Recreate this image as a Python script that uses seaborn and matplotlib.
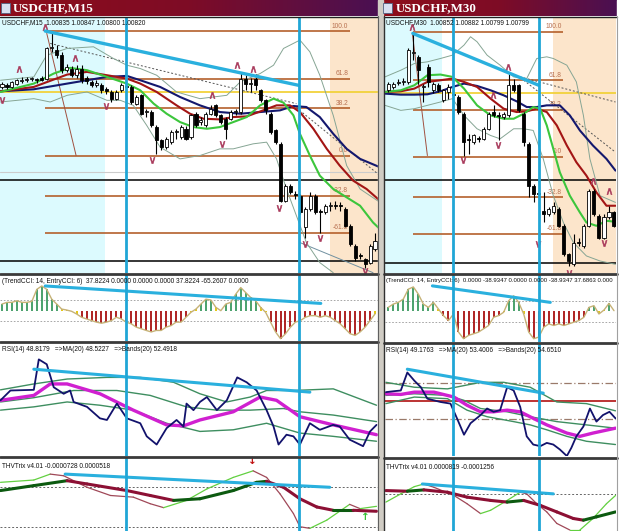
import numpy as np
import matplotlib
matplotlib.use('Agg')
import matplotlib.pyplot as plt
import seaborn as sns
from matplotlib.collections import LineCollection
from matplotlib.patches import Rectangle

sns.set_style('white')
plt.rcParams['font.family'] = ['DejaVu Sans']

# ---------------- DATA (price in chart points, bar index on x) ----------------
# M15 candles
m15_open = [585,592,585,595,604,606,608,606,612,610,700,695,680,637,640,620,640,612,600,592,
            590,578,570,550,575,588,585,535,560,510,510,465,425,405,420,450,435,460,435,505,
            480,470,505,530,500,490,490,510,510,610,595,610,575,545,505,455,415,245,290,265,
            260,165,220,260,212,210,228,232,230,220,170,110,82,70,60,100]
m15_high = [600,598,604,610,615,614,616,612,618,705,750,710,688,655,648,650,650,618,605,606,
            596,585,575,575,598,595,590,560,565,518,515,470,430,435,455,460,470,468,505,510,
            495,510,530,535,505,495,515,520,630,620,612,625,580,550,510,460,420,295,295,275,
            265,225,270,265,220,235,240,245,240,225,175,115,90,75,115,150]
m15_low = [580,580,582,592,598,600,602,598,602,605,690,672,628,630,615,612,598,595,585,586,
           568,565,540,545,570,580,535,530,500,495,465,385,398,400,415,430,430,425,430,465,
           470,465,500,495,475,430,485,500,505,575,570,575,540,505,445,415,240,240,265,250,
           205,135,215,205,150,205,215,220,215,165,110,65,70,45,55,95]
m15_close = [595,586,600,605,606,607,610,605,606,700,702,680,635,645,620,640,605,602,590,598,
             575,572,550,570,590,586,540,555,505,512,470,425,405,430,450,452,465,430,500,470,
             485,505,520,500,480,460,510,512,610,595,597,590,545,515,450,420,245,290,270,262,
             210,220,260,210,210,230,232,230,228,170,115,75,80,55,110,125]

# M30 candles
m30_open = [575,585,598,600,600,685,675,585,645,575,590,545,570,562,555,505,428,420,430,430,
            460,510,500,495,500,590,590,505,415,290,267,215,205,210,220,170,85,55,122,110,
            170,275,200,135,195,210]
m30_high = [600,600,610,612,700,745,680,595,655,600,596,580,595,575,560,510,445,445,438,465,
            510,530,510,510,625,610,595,510,420,295,270,270,225,240,225,175,90,145,135,175,
            280,280,205,205,230,215]
m30_low = [570,580,590,592,595,665,595,540,585,568,570,540,550,550,505,380,385,415,420,425,
           455,495,425,490,495,570,510,410,255,240,230,180,200,205,165,80,50,50,110,105,
           165,200,130,130,190,165]
m30_close = [595,595,600,602,695,687,635,587,600,595,575,575,585,560,510,420,425,440,428,460,
             505,500,498,505,590,575,515,420,290,265,265,205,220,230,170,85,65,120,120,170,
             275,205,135,195,210,170]

fib_labels = ['100.0', '61.8', '38.2', '0.0', '-32.8', '-61.8']
m15_fib_levels = [752, 610, 522, 380, 260, 150]
m30_fib_levels = [750, 605, 517, 377, 255, 147]
m15_fib_span = [8.7, 69.9]
m30_fib_span = [4.9, 34.9]
m15_yellow, m30_yellow = 570, 567
m15_black_levels = [307, 65]
m30_black_levels = [307, 60]
m15_cyan_zone, m15_peach_zone = 20.7, 65.9
m30_cyan_zone, m30_peach_zone = 10.8, 32.9
m15_vlines = [25.0, 59.7]
m30_vlines = [12.9, 30.0]

# M15 moving averages
m15_green_x = [-0.3,6.4,10.4,13.7,17.1,21.1,25.1,27.8,30.5,33.1,35.8,38.5,41.2,43.8,46.5,49.2,51.9,54.6,56.6,58.6,59.9,61.9,63.9,66.6,69.3,72.0,74.6,76.0]
m15_green_y = [570,595,625,642,635,615,595,575,535,505,480,465,460,465,480,495,530,550,538,500,445,380,320,280,255,230,180,160]
m15_red_x = [-0.3,6.4,13.1,17.1,21.1,25.1,27.8,31.1,35.1,37.8,40.5,43.8,46.5,49.2,52.5,55.2,57.9,59.9,62.6,65.3,67.9,70.6,73.3,76.0]
m15_red_y = [572,585,622,630,620,610,595,570,530,505,490,488,495,497,515,530,530,510,460,400,350,305,280,245]
m15_navy_x = [-0.3,6.4,13.1,17.1,21.1,25.1,27.8,31.8,35.8,39.8,43.8,47.9,51.9,55.9,58.6,61.2,63.9,66.6,69.3,72.0,76.0]
m15_navy_y = [572,578,595,605,615,618,605,585,555,530,510,505,510,515,528,525,495,445,400,370,345]
m15_bandup_x = [-0.3,6.4,9.0,13.1,18.4,22.4,25.1,27.8,31.1,35.1,39.8,45.2,47.9,51.9,54.6,56.6,59.9,61.9,63.9,66.6,69.3,72.0,76.0]
m15_bandup_y = [605,615,680,700,705,670,650,640,620,570,550,560,600,625,650,700,725,690,620,500,350,280,240]
m15_banddn_x = [-0.3,6.4,9.7,13.1,17.1,21.1,23.8,26.4,29.1,31.8,35.8,39.8,43.8,46.5,50.5,53.2,55.2,57.2,59.2,61.2,63.9,66.6]
m15_banddn_y = [540,550,540,560,570,545,545,530,470,405,370,380,400,400,415,420,370,280,200,120,60,30]
m15_frac_up_x = [8.6,3.5,14.7,42.3,47.3,50.5]
m15_frac_up_y = [765,640,672,562,650,638]
m15_frac_dn_x = [0.0,21.0,30.1,44.2,55.6,60.9,63.9,73.0]
m15_frac_dn_y = [545,528,368,415,222,115,135,35]
m15_trend = ([8.7, 59.6], [752, 590])

# M30 moving averages
m30_green_x = [-0.66,2.5,5.2,7.8,10.4,12.8,15.1,17.7,20.4,23.0,25.0,27.0,28.9,30.3,31.6,32.9,34.2,36.2,38.2,39.5,41.5,43.5,45.3]
m30_green_y = [570,575,590,620,622,615,580,530,500,490,490,505,525,520,470,400,330,260,210,180,170,185,182]
m30_red_x = [-0.66,2.5,5.2,7.8,10.4,12.8,15.1,17.7,20.4,23.0,25.6,27.6,29.6,31.6,33.6,35.6,37.5,39.5,41.5,43.5,45.3]
m30_red_y = [570,572,580,600,605,610,600,585,550,520,510,512,520,510,470,410,360,320,270,230,230]
m30_navy_x = [-0.66,2.5,5.2,7.8,10.4,12.8,15.1,17.7,20.4,23.0,25.6,27.6,29.6,31.6,34.2,36.2,38.2,40.8,43.5,45.3]
m30_navy_y = [565,562,562,563,572,585,595,588,575,560,542,525,525,530,530,500,455,410,370,335]
m30_bandup_x = [-0.66,2.5,5.2,7.8,10.4,12.8,15.1,16.4,17.7,19.7,22.3,25.0,27.6,29.6,31.6,32.9,35.6,37.5,38.9,40.2,42.2,45.3]
m30_bandup_y = [615,635,655,660,670,680,710,735,720,680,650,615,610,670,675,670,650,600,500,370,260,240]
m30_banddn_x = [-0.66,2.5,5.2,7.8,10.4,12.8,15.1,17.7,20.4,22.3,25.0,27.0,28.9,30.9,32.9,34.9,36.9,39.5,42.2,45.3]
m30_banddn_y = [530,515,520,530,540,550,500,460,440,430,460,460,455,370,260,180,120,80,65,55]
m30_frac_up_x = [4.8,23.9,20.9,40.8,44.0]
m30_frac_up_y = [765,645,560,305,275]
m30_frac_dn_x = [14.9,21.9,29.8,36.0,43.0]
m30_frac_dn_y = [368,412,115,30,120]
m30_trend = ([4.9, 30.0], [745, 590])

# TrendCCI histograms
m15_cci = [62,78,78,93,78,78,87,200,232,200,108,62,15,6,-6,-31,-62,-78,-93,-108,
           -118,-108,-93,-62,-78,-108,-124,-155,-170,-186,-200,-186,-186,-155,-140,-108,-108,-62,-15,15,
           62,108,100,31,0,62,78,155,217,170,124,93,31,-15,-108,-200,-263,-217,-155,-108,
           -93,-62,-47,-47,-62,-47,-62,-93,-124,-170,-217,-232,-200,-155,-93,-31]
m30_cci = [37,68,84,115,208,229,161,68,37,84,22,-40,-87,-25,-195,-257,-226,-211,-195,-164,
           -133,-56,-40,-9,99,146,84,-25,-195,-257,-242,-149,-118,-133,-118,-133,-118,-102,-87,-56,
           37,53,-25,12,74,6]
m15_cci_trend = ([8.7, 64.1], [232, 68])
m30_cci_trend = ([8.8, 32.3], [239, 84])

# RSI panels
m15_rsi_x = [-0.3,1.7,6.4,7.4,9.0,10.4,12.4,13.7,14.4,17.1,19.7,21.1,23.1,25.1,27.8,29.1,31.1,33.1,35.1,36.5,37.1,38.5,39.8,41.2,43.2,45.2,47.3,49.2,51.2,53.2,54.6,55.6,57.2,58.6,59.9,61.9,63.9,66.6,67.9,69.9,72.6,74.0,75.3]
m15_rsi_y = [170,200,202,295,280,210,190,200,165,150,115,110,160,115,100,60,35,85,110,90,160,140,165,180,140,170,240,225,200,140,90,35,65,60,35,100,80,95,90,50,30,75,95]
m15_rsima_x = [-0.3,6.4,9.7,13.1,19.7,26.4,33.1,36.5,39.8,46.5,51.9,55.2,59.9,66.6,75.3]
m15_rsima_y = [170,185,220,220,190,140,95,92,110,135,180,170,120,95,65]
m15_b1_x = [-0.3,6.4,13.1,21.1,27.8,34.5,39.8,45.2,49.9,53.2,58.6,66.6,75.3]
m15_b1_y = [202,220,235,240,240,225,190,165,180,200,200,205,155]
m15_b2_x = [-0.3,6.4,14.4,23.1,29.8,37.1,43.2,49.9,56.6,59.9,66.6,75.3]
m15_b2_y = [165,178,200,200,185,150,140,140,145,135,125,105]
m15_b3_x = [-0.3,6.4,13.1,19.7,26.4,33.1,39.8,46.5,53.2,59.9,66.6,75.3]
m15_b3_y = [140,150,165,155,140,100,75,80,100,70,60,45]
m15_rsi_trend = ([6.4, 61.9], [265, 195])

m30_rsi_x = [-0.46,1.2,2.5,3.8,5.2,6.5,7.8,10.4,12.4,13.7,15.1,16.4,18.4,19.7,21.0,22.3,23.7,25.0,26.3,27.6,28.9,30.3,31.6,32.9,34.2,35.6,36.5,37.5,38.9,40.2,41.5,42.8,44.1,45.3]
m30_rsi_y = [195,198,200,255,230,210,175,165,160,115,65,100,125,145,135,140,210,200,150,60,35,30,40,35,20,0,25,60,90,145,105,125,135,115]
m30_rsima_x = [-0.46,2.5,5.2,9.1,13.1,15.7,18.4,21.0,23.7,26.3,28.9,31.6,35.6,38.2,40.8,45.3]
m30_rsima_y = [190,188,195,195,180,155,135,135,140,135,115,95,70,60,70,85]
m30_b1_x = [-0.46,5.2,11.8,18.4,23.0,28.3,33.6,39.5,45.3]
m30_b1_y = [225,210,205,225,225,210,165,160,138]
m30_b2_x = [-0.46,5.2,11.8,15.1,18.4,23.7,28.3,33.6,39.5,45.3]
m30_b2_y = [185,190,185,170,145,135,120,105,95,85]
m30_b3_x = [-0.46,5.2,11.8,15.7,19.7,25.0,28.3,31.6,35.6,39.5,45.3]
m30_b3_y = [160,180,175,140,120,105,95,80,60,45,35]
m30_rsi_levels_dash = [223, 112]
m30_rsi_level_mid = 168
m30_rsi_trend = ([3.8, 30.9], [265, 192])

# THVTrix panels
m15_trix_x = [-0.3,6.4,13.1,17.1,25.1,29.8,34.5,39.8,46.5,51.2,53.2,56.6,59.9,63.3,66.6,70.6,75.3]
m15_trix_y = [130,145,160,150,130,115,100,105,130,155,158,140,105,80,70,70,67]
m15_sig_x = [-0.3,6.4,9.7,12.4,17.1,21.8,26.4,29.8,32.5,37.1,41.2,46.5,50.5,53.2,55.9,58.6,59.9,61.9,65.3,69.9,72.0,75.3]
m15_sig_y = [155,162,180,175,140,115,110,90,78,100,135,170,190,170,120,60,20,15,40,88,75,82]
m15_trix_levels = [142, 20]
m15_trix_trend = ([12.7, 65.9], [180, 140])
m15_arrow_dn = (50.3, 220)
m15_arrow_up = (73.0, 50)

m30_trix_x = [-0.46,3.8,7.1,11.8,15.7,20.4,23.7,27.0,30.3,33.6,36.9,38.9,41.5,45.3]
m30_trix_y = [130,128,132,125,110,100,95,100,85,65,45,40,50,65]
m30_sig_x = [-0.46,2.5,5.2,7.1,9.1,13.1,15.7,18.4,20.4,23.7,26.3,27.6,29.6,31.6,33.6,36.2,38.2,40.8,43.5,45.3]
m30_sig_y = [95,120,142,150,140,115,90,60,70,100,125,120,90,65,30,10,10,45,90,115]
m30_trix_levels = [120]
m30_trix_trend = ([6.8, 32.9], [150, 120])

# ---------------- STYLE ----------------
W, H = 625, 531
fig = plt.figure(figsize=(W / 100, H / 100), dpi=100)
fig.patch.set_facecolor('white')

C_CYANBG = '#DCFAFE'
C_PEACH = '#FCE5CB'
C_FIB = '#B4602C'
C_VLINE = '#20A6D6'
C_TREND = '#2AB0DE'
C_GREEN = '#3CC63C'
C_RED = '#A31515'
C_NAVY = '#14186E'
C_BAND = '#86A594'
C_FRAC = '#A8385A'
HFONT = 'Liberation Sans'
HSIZE = 4.7


def px_axes(x0, y0, x1, y1):
    ax = fig.add_axes([x0 / W, 1 - y1 / H, (x1 - x0) / W, (y1 - y0) / H])
    ax.set_xticks([])
    ax.set_yticks([])
    for s in ax.spines.values():
        s.set_visible(False)
    ax.set_facecolor('white')
    return ax


def line(ax, x, y, color, lw, ls='-', z=3):
    sns.lineplot(x=x, y=y, ax=ax, color=color, lw=lw, ls=ls, sort=False,
                 estimator=None, legend=False, zorder=z)


def two_tone(ax, x, y, up_col, dn_col, lw, z=3):
    pts = np.column_stack([x, y])
    segs = np.stack([pts[:-1], pts[1:]], axis=1)
    cols = [up_col if y[i + 1] >= y[i] else dn_col for i in range(len(y) - 1)]
    ax.add_collection(LineCollection(segs, colors=cols, linewidths=lw, zorder=z,
                                     capstyle='round'))


def header_text(ax, y, s, size=HSIZE):
    ax.text(0.005, y, s, transform=ax.transAxes, fontsize=size, family=HFONT,
            color='#111111', ha='left', va='top', zorder=12)


def price_panel(ax, o, h, l, c, xlim, cyan, peach, fibs, span, yellow, blacks,
                green, red, navy, bup, bdn, fu, fd, trend, header, extra):
    o, h, l, c = map(np.asarray, (o, h, l, c))
    ax.set_xlim(*xlim)
    ax.set_ylim(29, 794)
    ax.axvspan(xlim[0], cyan, color=C_CYANBG, lw=0, zorder=0)
    ax.axvspan(peach, xlim[1], color=C_PEACH, lw=0, zorder=0)
    for lev, lab in zip(fibs, fib_labels):
        ax.hlines(lev, span[0], span[1], color=C_FIB, lw=1.2, zorder=2)
        ax.text(span[1] - 0.3, lev + 4, lab, color='#B87050', fontsize=4.8, family=HFONT,
                ha='right', va='bottom', zorder=2)
    ax.axhline(yellow, color='#F2D23C', lw=1.3, zorder=2)
    for b in blacks:
        ax.axhline(b, color='black', lw=1.1, zorder=2)
    extra(ax)
    line(ax, bup[0], bup[1], C_BAND, 0.7)
    line(ax, bdn[0], bdn[1], C_BAND, 0.7)
    line(ax, navy[0], navy[1], C_NAVY, 1.5)
    line(ax, red[0], red[1], C_RED, 1.5)
    line(ax, green[0], green[1], C_GREEN, 1.5)
    idx = np.arange(len(o))
    ax.vlines(idx, l, h, color='black', lw=0.8, zorder=5)
    up = c >= o
    bottom = np.minimum(o, c)
    height = np.maximum(np.abs(c - o), 3)
    ax.bar(idx, height, bottom=bottom, width=0.62,
           color=np.where(up, 'white', 'black'), edgecolor='black', lw=0.6, zorder=6)
    ax.scatter(fu[0], fu[1], marker=r'$\wedge$', s=20, color=C_FRAC, linewidths=0.4, zorder=7)
    ax.scatter(fd[0], fd[1], marker=r'$\vee$', s=20, color=C_FRAC, linewidths=0.4, zorder=7)
    ax.plot(trend[0], trend[1], color=C_TREND, lw=2.4, zorder=8, solid_capstyle='round')
    header_text(ax, 0.993, header)


def extra_m15(ax):
    ax.plot([9.7, 59.2], [715, 535], color='#555555', lw=0.7, ls=(0, (2, 2)), zorder=3)
    ax.plot([58.6, 76.0], [530, 320], color='#555555', lw=0.7, ls=(0, (2, 2)), zorder=3)
    ax.plot([9.0, 14.9], [745, 380], color='#A05040', lw=0.7, zorder=3)
    ax.plot([59.9, 74.6], [120, 30], color='#7090A0', lw=0.7, zorder=3)
    ax.axhline(330, color='#CCCCCC', lw=0.8, zorder=1)


def extra_m30(ax):
    ax.plot([26.3, 45.3], [615, 540], color='#555555', lw=0.7, ls=(0, (2, 2)), zorder=3)
    ax.plot([27.0, 45.3], [605, 390], color='#555555', lw=0.7, ls=(0, (2, 2)), zorder=3)
    ax.plot([4.8, 7.8], [745, 380], color='#A05040', lw=0.7, zorder=3)


def cci_panel(ax, vals, xlim, ylim, trend, header, size=HSIZE):
    vals = np.asarray(vals)
    idx = np.arange(len(vals))
    ax.set_xlim(*xlim)
    ax.set_ylim(*ylim)
    cols = np.where(np.abs(vals) < 35, '#E2C200', np.where(vals > 0, '#3C9A60', '#A81010'))
    ax.vlines(idx, 0, vals, colors=cols, lw=1.3, zorder=3)
    line(ax, idx, vals, '#C6B277', 1.0, z=4)
    for lv in (100, -100):
        ax.axhline(lv, color='#999999', lw=0.6, ls=(0, (2, 2)), zorder=1)
    ax.plot(trend[0], trend[1], color=C_TREND, lw=2.2, zorder=8, solid_capstyle='round')
    header_text(ax, 0.96, header, size)


def rsi_panel(ax, xlim, ylim, rsi, ma, bands, trend, header):
    ax.set_xlim(*xlim)
    ax.set_ylim(*ylim)
    for b in bands:
        line(ax, b[0], b[1], '#3E8E60', 1.0)
    line(ax, ma[0], ma[1], '#D020D0', 2.4, z=4)
    line(ax, rsi[0], rsi[1], '#12126C', 1.3, z=5)
    ax.plot(trend[0], trend[1], color=C_TREND, lw=2.2, zorder=8, solid_capstyle='round')
    header_text(ax, 0.975, header)


def trix_panel(ax, xlim, ylim, tx, ty, sx, sy, levels, trend, header):
    ax.set_xlim(*xlim)
    ax.set_ylim(*ylim)
    for lv in levels:
        ax.axhline(lv, color='#666666', lw=0.7, ls=(0, (2, 2)), zorder=1)
    two_tone(ax, sx, sy, '#62D040', '#A04858', 0.9, z=3)
    two_tone(ax, tx, ty, '#0C5A10', '#8C1034', 2.2, z=4)
    ax.plot(trend[0], trend[1], color=C_TREND, lw=2.2, zorder=8, solid_capstyle='round')
    header_text(ax, 0.93, header)


# ---------------- M15 window ----------------
xl15 = (-0.4, 75.6)
xl30 = (-0.65, 45.4)

a = px_axes(0, 17, 378, 273)
price_panel(a, m15_open, m15_high, m15_low, m15_close, xl15, m15_cyan_zone, m15_peach_zone,
            m15_fib_levels, m15_fib_span, m15_yellow, m15_black_levels,
            (m15_green_x, m15_green_y), (m15_red_x, m15_red_y), (m15_navy_x, m15_navy_y),
            (m15_bandup_x, m15_bandup_y), (m15_banddn_x, m15_banddn_y),
            (m15_frac_up_x, m15_frac_up_y), (m15_frac_dn_x, m15_frac_dn_y), m15_trend,
            'USDCHF,M15  1.00835 1.00847 1.00800 1.00820', extra_m15)
b = px_axes(0, 275, 378, 341)
cci_panel(b, m15_cci, xl15, (-285, 335), m15_cci_trend,
          '(TrendCCI: 14, EntryCCI: 6)  37.8224 0.0000 0.0000 0.0000 37.8224 -65.2607 0.0000')
c = px_axes(0, 343, 378, 456)
rsi_panel(c, xl15, (0, 345), (m15_rsi_x, m15_rsi_y), (m15_rsima_x, m15_rsima_y),
          [(m15_b1_x, m15_b1_y), (m15_b2_x, m15_b2_y), (m15_b3_x, m15_b3_y)], m15_rsi_trend,
          'RSI(14) 48.8179   =>MA(20) 48.5227   =>Bands(20) 52.4918')
d = px_axes(0, 458, 378, 531)
trix_panel(d, xl15, (7, 229), m15_trix_x, m15_trix_y, m15_sig_x, m15_sig_y,
           m15_trix_levels, m15_trix_trend, 'THVTrix v4.01 -0.0000728 0.0000518')
d.text(m15_arrow_dn[0], m15_arrow_dn[1], '\u2193', color='#C01010', fontsize=7.5,
       ha='center', va='center', fontweight='bold')
d.text(m15_arrow_up[0], m15_arrow_up[1], '\u2191', color='#30C030', fontsize=7.5,
       ha='center', va='center', fontweight='bold')
for ax in (a, b, c, d):
    for v in m15_vlines:
        ax.axvline(v, color=C_VLINE, lw=2.0, zorder=10)

# ---------------- M30 window ----------------
e = px_axes(385, 17, 616, 273)
price_panel(e, m30_open, m30_high, m30_low, m30_close, xl30, m30_cyan_zone, m30_peach_zone,
            m30_fib_levels, m30_fib_span, m30_yellow, m30_black_levels,
            (m30_green_x, m30_green_y), (m30_red_x, m30_red_y), (m30_navy_x, m30_navy_y),
            (m30_bandup_x, m30_bandup_y), (m30_banddn_x, m30_banddn_y),
            (m30_frac_up_x, m30_frac_up_y), (m30_frac_dn_x, m30_frac_dn_y), m30_trend,
            'USDCHF,M30  1.00852 1.00882 1.00799 1.00799', extra_m30)
f = px_axes(385, 275, 616, 342)
cci_panel(f, m30_cci, xl30, (-288, 341), m30_cci_trend,
          '(TrendCCI: 14, EntryCCI: 6)  0.0000 -38.9347 0.0000 0.0000 -38.9347 37.6863 0.000',
          size=4.3)
g = px_axes(385, 344, 616, 456)
rsi_panel(g, xl30, (0, 342), (m30_rsi_x, m30_rsi_y), (m30_rsima_x, m30_rsima_y),
          [(m30_b1_x, m30_b1_y), (m30_b2_x, m30_b2_y), (m30_b3_x, m30_b3_y)], m30_rsi_trend,
          'RSI(14) 49.1763   =>MA(20) 53.4006   =>Bands(20) 54.6510')
for lv in m30_rsi_levels_dash:
    g.axhline(lv, color='#9A7A6A', lw=0.9, ls=(0, (6, 2, 1, 2)), zorder=1)
g.axhline(m30_rsi_level_mid, color='#B01010', lw=1.2, zorder=1)
h_ = px_axes(385, 459, 616, 531)
trix_panel(h_, xl30, (7, 226), m30_trix_x, m30_trix_y, m30_sig_x, m30_sig_y,
           m30_trix_levels, m30_trix_trend, 'THVTrix v4.01 0.0000819 -0.0001256')
for ax in (e, f, g, h_):
    for v in m30_vlines:
        ax.axvline(v, color=C_VLINE, lw=2.0, zorder=10)

# ---------------- window chrome ----------------
ov = fig.add_axes([0, 0, 1, 1], zorder=20)
ov.set_xlim(0, W)
ov.set_ylim(H, 0)
ov.axis('off')
ov.patch.set_alpha(0)

grad = np.linspace(0, 1, 256)
cmap = matplotlib.colors.LinearSegmentedColormap.from_list('tb', ['#8E0E1A', '#7E0C26', '#4A1052'])
ov.imshow(grad[None, :], cmap=cmap, extent=(0, 378, 16, 0), aspect='auto', zorder=1)
ov.imshow(grad[None, :], cmap=cmap, extent=(382, 617, 16, 0), aspect='auto', zorder=1)
ov.add_patch(Rectangle((378, 0), 5, H, color='#D0CCC4', zorder=1))
ov.add_patch(Rectangle((617, 0), 8, 16, color='white', zorder=1))
for x0 in (1, 383):
    ov.add_patch(Rectangle((x0, 3), 9, 10, facecolor='#D8E0F0', edgecolor='#506080', lw=0.6, zorder=2))
ov.text(13, 8.5, 'USDCHF,M15', color='white', fontsize=9.4, fontweight='bold',
        family='Liberation Serif', va='center', ha='left', zorder=3)
ov.text(396, 8.5, 'USDCHF,M30', color='white', fontsize=9.4, fontweight='bold',
        family='Liberation Serif', va='center', ha='left', zorder=3)

for (x0, x1, ys) in ((0, 378, (16.5, 273.8, 342.2, 457.2)), (384, 617, (16.5, 273.8, 343.0, 458.0))):
    ov.plot([x0, x1], [ys[0], ys[0]], color='#202020', lw=1.0, zorder=2)
    for yy in ys[1:]:
        ov.plot([x0, x1], [yy, yy], color='#3A3A3A', lw=2.0, zorder=2)
ov.plot([378.3, 378.3], [16, H], color='#606060', lw=0.8, zorder=2)
ov.plot([384.3, 384.3], [16, H], color='#303030', lw=1.0, zorder=2)
ov.plot([616.5, 616.5], [16, H], color='#A0A0A0', lw=0.8, zorder=2)

fig.savefig('out.png', dpi=100, facecolor='white')
